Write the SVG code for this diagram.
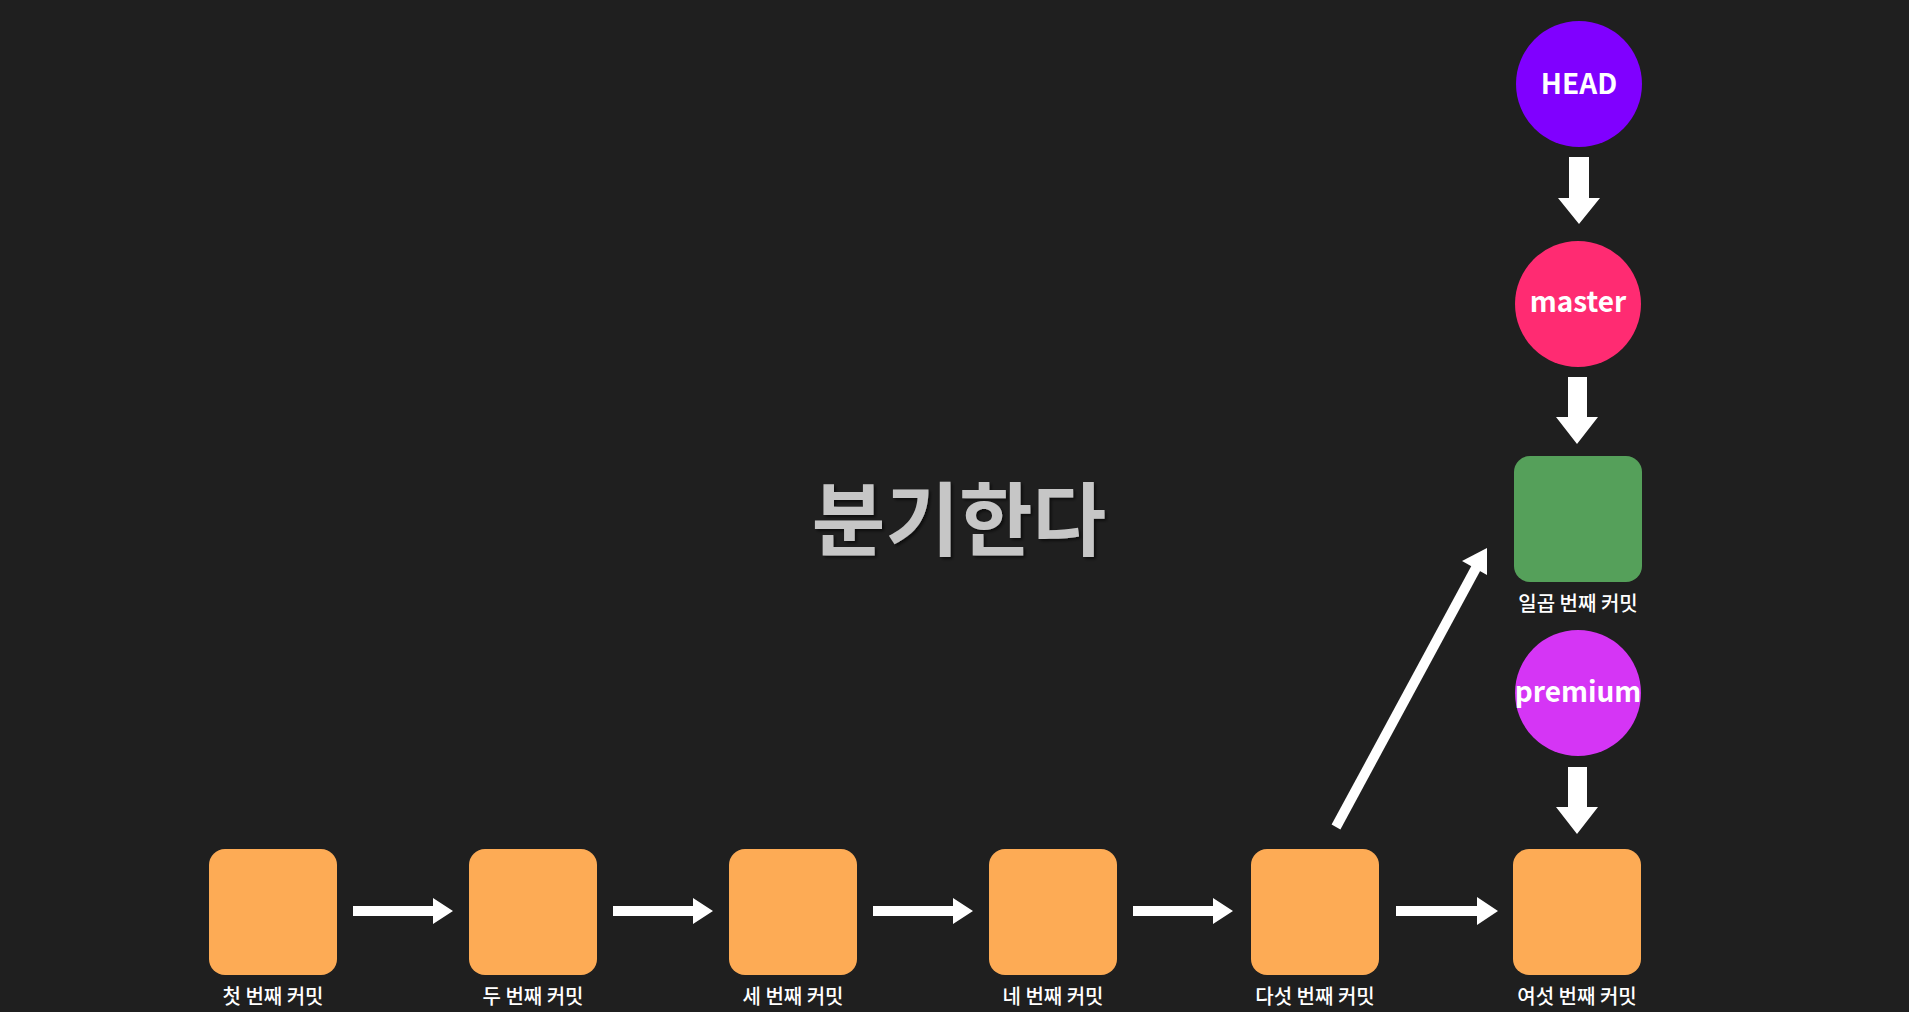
<svg xmlns="http://www.w3.org/2000/svg" width="1909" height="1012" viewBox="0 0 1909 1012">
<defs>
<style>
.commit{fill:#fdab55}
.green{fill:#55a05a}
.lbl{font-family:"Noto Sans CJK KR","Noto Sans",sans-serif;font-size:20px;font-weight:500;fill:#ffffff;text-anchor:middle}
.ref{font-family:"Noto Sans CJK KR","Noto Sans",sans-serif;font-size:28px;font-weight:700;fill:#ffffff;text-anchor:middle}
.title{font-family:"Noto Sans CJK KR",sans-serif;font-size:80px;font-weight:700;fill:#c6c6c6;text-anchor:middle}
.arr{fill:#ffffff}
</style>
<filter id="sh" x="-10%" y="-10%" width="120%" height="130%">
<feDropShadow dx="2" dy="2" stdDeviation="1.5" flood-color="#000" flood-opacity="0.6"/>
</filter>
</defs>
<rect width="1909" height="1012" fill="#1f1f1f"/>
<g id="title"><text class="title" x="959" y="549" filter="url(#sh)">분기한다</text></g>
<g id="c1"><rect class="commit" x="209" y="849" width="128" height="126" rx="16"/><text class="lbl" x="273" y="1004">첫 번째 커밋</text></g>
<g id="c2"><rect class="commit" x="469" y="849" width="128" height="126" rx="16"/><text class="lbl" x="533" y="1004">두 번째 커밋</text></g>
<g id="c3"><rect class="commit" x="729" y="849" width="128" height="126" rx="16"/><text class="lbl" x="793" y="1004">세 번째 커밋</text></g>
<g id="c4"><rect class="commit" x="989" y="849" width="128" height="126" rx="16"/><text class="lbl" x="1053" y="1004">네 번째 커밋</text></g>
<g id="c5"><rect class="commit" x="1251" y="849" width="128" height="126" rx="16"/><text class="lbl" x="1315" y="1004">다섯 번째 커밋</text></g>
<g id="c6"><rect class="commit" x="1513" y="849" width="128" height="126" rx="16"/><text class="lbl" x="1577" y="1004">여섯 번째 커밋</text></g>
<g id="c7"><rect class="green" x="1514" y="456" width="128" height="126" rx="16"/><text class="lbl" x="1578" y="611">일곱 번째 커밋</text></g>
<g id="head"><circle cx="1579" cy="84" r="63" fill="#8000ff"/><text class="ref" x="1579" y="94">HEAD</text></g>
<g id="master"><circle cx="1578" cy="304" r="63" fill="#ff2b72"/><text class="ref" x="1578" y="312">master</text></g>
<g id="premium"><circle cx="1578" cy="693" r="63" fill="#d535f5"/><text class="ref" x="1578" y="702">premium</text></g>
<g id="connectors">
<polygon class="arr" points="353,906 433,906 433,898 453,911 433,924 433,916 353,916"/>
<polygon class="arr" points="613,906 693,906 693,898 713,911 693,924 693,916 613,916"/>
<polygon class="arr" points="873,906 953,906 953,898 973,911 953,924 953,916 873,916"/>
<polygon class="arr" points="1133,906 1213,906 1213,898 1233,911 1213,924 1213,916 1133,916"/>
<polygon class="arr" points="1396,906 1477,906 1477,897 1498,911 1477,925 1477,916 1396,916"/>
<polygon class="arr" points="1569,157 1589,157 1589,198 1600,198 1579,224 1558,198 1569,198"/>
<polygon class="arr" points="1568,377 1587,377 1587,417 1598,417 1577,444 1556,417 1568,417"/>
<polygon class="arr" points="1568,767 1587,767 1587,807 1598,807 1577,834 1556,807 1568,807"/>
<line x1="1336" y1="827" x2="1476" y2="568" stroke="#ffffff" stroke-width="10"/>
<polygon class="arr" points="1487,548 1487,575 1462,561"/>
</g>
</svg>
